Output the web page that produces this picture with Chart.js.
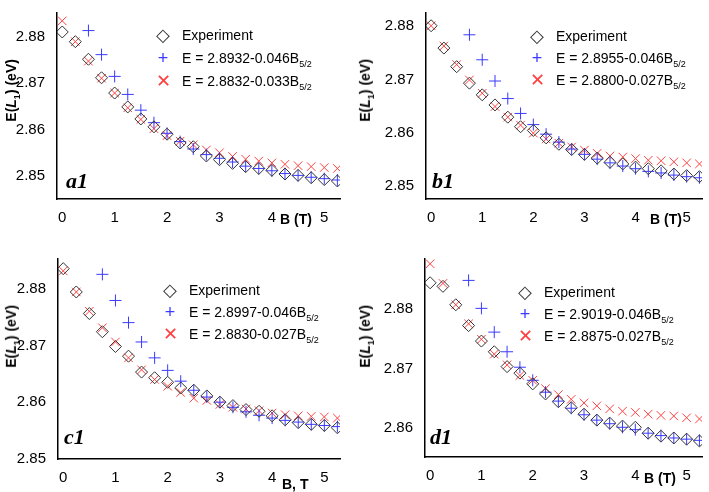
<!DOCTYPE html>
<html>
<head>
<meta charset="utf-8">
<script src="https://cdn.jsdelivr.net/npm/chart.js@4/dist/chart.umd.min.js"></script>
<style>
body { margin: 0; background: #fff; font-family: "Liberation Sans", Arial, sans-serif; }
#wrap { position: relative; width: 709px; height: 492px; overflow: hidden; }
.panel { position: absolute; }
.lbl { position: absolute; font-size: 14px; color: #000; white-space: nowrap; line-height: 1; }
.lbl sub { font-size: 9px; vertical-align: -4px; }
.sym { position: absolute; font-size: 18px; line-height: 1; transform: translate(-50%, -50%); }
.ytitle { position: absolute; font-weight: bold; font-size: 14px; transform: rotate(-90deg); transform-origin: center; white-space: nowrap; }
.ytitle sub { font-size: 9px; }
.xtitle { position: absolute; font-weight: bold; font-size: 14px; white-space: nowrap; }
.tag { position: absolute; font-family: "Liberation Serif", serif; font-weight: bold; font-style: italic; font-size: 22px; }
</style>
</head>
<body>
<div id="wrap"></div>
<script>
// magnetic field values (T)
var bField = [0, 0.25, 0.5, 0.75, 1, 1.25, 1.5, 1.75, 2, 2.25, 2.5, 2.75, 3, 3.25, 3.5, 3.75, 4, 4.25, 4.5, 4.75, 5, 5.25];
var xTicks = [0, 1, 2, 3, 4, 5];

// a1
var expA = [2.8811, 2.879, 2.8752, 2.8712, 2.8679, 2.8649, 2.8623, 2.8606, 2.859, 2.8571, 2.8563, 2.8543, 2.8535, 2.8527, 2.852, 2.8516, 2.8512, 2.8504, 2.8501, 2.8496, 2.8492, 2.8489];
var fit1A = [null, null, 2.8814, 2.8762, 2.8715, 2.8676, 2.8642, 2.8615, 2.8592, 2.8574, 2.8558, 2.8546, 2.8538, 2.853, 2.8521, 2.8516, 2.8511, 2.8505, 2.8501, 2.8497, 2.8494, 2.8491];
var fit2A = [2.8835, 2.879, 2.8748, 2.8711, 2.8679, 2.8647, 2.8622, 2.8602, 2.8587, 2.8575, 2.8567, 2.8556, 2.855, 2.8542, 2.8536, 2.8532, 2.8528, 2.8525, 2.8522, 2.852, 2.8518, 2.8516];
var yTicksA = [2.85, 2.86, 2.87, 2.88];

// b1
var expB = [2.8801, 2.8759, 2.8724, 2.8693, 2.8671, 2.8652, 2.8629, 2.8611, 2.8604, 2.859, 2.8578, 2.8568, 2.8559, 2.8552, 2.8544, 2.8541, 2.8535, 2.8532, 2.8528, 2.8522, 2.8519, 2.8517];
var fit1B = [null, null, null, 2.8784, 2.8737, 2.8697, 2.8664, 2.8636, 2.8615, 2.8597, 2.8582, 2.8569, 2.8559, 2.855, 2.8543, 2.8537, 2.8532, 2.8527, 2.8524, 2.852, 2.8517, 2.8515];
var fit2B = [2.8801, 2.8763, 2.8728, 2.8699, 2.8674, 2.8649, 2.8629, 2.8614, 2.8599, 2.8588, 2.858, 2.8573, 2.8567, 2.8561, 2.8556, 2.8554, 2.8551, 2.8548, 2.8547, 2.8545, 2.8543, 2.8541];
var yTicksB = [2.85, 2.86, 2.87, 2.88];

// c1
var expC = [2.8835, 2.8794, 2.8756, 2.8724, 2.8698, 2.8681, 2.8653, 2.8643, 2.8635, 2.8625, 2.8621, 2.8611, 2.86, 2.8594, 2.8587, 2.8584, 2.8576, 2.8569, 2.8564, 2.8561, 2.8559, 2.8555];
var fit1C = [null, null, null, 2.8825, 2.8779, 2.874, 2.8706, 2.8678, 2.8656, 2.8637, 2.8621, 2.8609, 2.86, 2.8591, 2.8583, 2.8577, 2.8572, 2.8568, 2.8565, 2.8561, 2.8559, 2.8557];
var fit2C = [2.8831, 2.8794, 2.876, 2.8731, 2.8706, 2.8678, 2.8657, 2.864, 2.8628, 2.8617, 2.8607, 2.8603, 2.8596, 2.8591, 2.8588, 2.8585, 2.8581, 2.8578, 2.8576, 2.8575, 2.8574, 2.8572];
var yTicksC = [2.85, 2.86, 2.87, 2.88];

// d1
var expD = [2.8844, 2.8838, 2.8807, 2.8772, 2.8746, 2.8728, 2.8703, 2.8692, 2.8674, 2.8657, 2.8644, 2.8634, 2.8623, 2.8613, 2.8608, 2.8603, 2.8601, 2.8591, 2.8586, 2.8583, 2.8581, 2.8578];
var fit1D = [null, null, null, 2.8848, 2.8801, 2.8761, 2.8728, 2.8702, 2.868, 2.866, 2.8645, 2.8633, 2.8622, 2.8613, 2.8607, 2.8601, 2.8597, 2.8591, 2.8587, 2.8583, 2.8581, 2.8579];
var fit2D = [2.8876, 2.8843, 2.8807, 2.8775, 2.8749, 2.8724, 2.8706, 2.8688, 2.868, 2.8666, 2.8656, 2.8648, 2.8642, 2.8637, 2.8632, 2.8628, 2.8626, 2.8623, 2.8621, 2.862, 2.8617, 2.8615];
var yTicksD = [2.86, 2.87, 2.88];

var legendA = ['Experiment', 'E = 2.8932-0.046B', 'E = 2.8832-0.033B'];
var legendB = ['Experiment', 'E = 2.8955-0.046B', 'E = 2.8800-0.027B'];
var legendC = ['Experiment', 'E = 2.8997-0.046B', 'E = 2.8830-0.027B'];
var legendD = ['Experiment', 'E = 2.9019-0.046B', 'E = 2.8875-0.027B'];

var panels = [
	{ left: 0, top: 0, w: 354, h: 246, yw: 57, xh: 47, padR: 14, padT: 0, ymin: 2.845, ymax: 2.8852,
		exp: expA, f1: fit1A, f2: fit2A, yt: yTicksA, leg: legendA, legX: 163, legY: 35, legGap: 23,
		tag: 'a1', tagX: 66, tagY: 168, xt: 'B (T)', xtX: 280, xtY: 211, ytY: 90 },
	{ left: 354, top: 0, w: 355, h: 246, yw: 72, xh: 47, padR: 0, padT: 0, ymin: 2.8475, ymax: 2.8825,
		exp: expB, f1: fit1B, f2: fit2B, yt: yTicksB, leg: legendB, legX: 537, legY: 36, legGap: 22,
		tag: 'b1', tagX: 432, tagY: 168, xt: 'B (T)', xtX: 650, xtY: 211, ytY: 90 },
	{ left: 0, top: 246, w: 354, h: 246, yw: 58, xh: 33, padR: 14, padT: 13, ymin: 2.85, ymax: 2.8852,
		exp: expC, f1: fit1C, f2: fit2C, yt: yTicksC, leg: legendC, legX: 170, legY: 290, legGap: 22,
		tag: 'c1', tagX: 64, tagY: 424, xt: 'B, T', xtX: 282, xtY: 476, ytY: 336 },
	{ left: 354, top: 246, w: 355, h: 246, yw: 71, xh: 35, padR: 0, padT: 10, ymin: 2.8551, ymax: 2.8884,
		exp: expD, f1: fit1D, f2: fit2D, yt: yTicksD, leg: legendD, legX: 525, legY: 292, legGap: 22,
		tag: 'd1', tagX: 430, tagY: 424, xt: 'B (T)', xtX: 644, xtY: 470, ytY: 336 },
];

var wrap = document.getElementById('wrap');

function addEl(cls, html, x, y, color) {
	var el = document.createElement('div');
	el.className = cls;
	el.innerHTML = html;
	el.style.left = x + 'px';
	el.style.top = y + 'px';
	if (color) el.style.color = color;
	wrap.appendChild(el);
	return el;
}

function pts(ys) {
	return bField.map(function (b, i) { return { x: b, y: ys[i] }; }).filter(function (p) { return p.y !== null; });
}

panels.forEach(function (p) {
	var box = document.createElement('div');
	box.className = 'panel';
	box.style.left = p.left + 'px';
	box.style.top = p.top + 'px';
	box.style.width = p.w + 'px';
	box.style.height = p.h + 'px';
	var canvas = document.createElement('canvas');
	box.appendChild(canvas);
	wrap.appendChild(box);

	new Chart(canvas.getContext('2d'), {
		type: 'scatter',
		data: {
			datasets: [{
				label: p.leg[0],
				data: pts(p.exp),
				pointStyle: 'rectRot',
				pointRadius: 6,
				borderColor: '#333',
				backgroundColor: 'rgba(0,0,0,0)',
				borderWidth: 1,
			}, {
				label: p.leg[1],
				data: pts(p.f1),
				pointStyle: 'cross',
				pointRadius: 6,
				borderColor: '#3a3aff',
				borderWidth: 1,
			}, {
				label: p.leg[2],
				data: pts(p.f2),
				pointStyle: 'crossRot',
				pointRadius: 6,
				borderColor: '#ff4040',
				borderWidth: 1,
			}],
		},
		options: {
			responsive: true,
			maintainAspectRatio: false,
			animation: false,
			layout: { padding: { top: p.padT, right: p.padR, left: 0, bottom: 0 } },
			plugins: { legend: { display: false }, tooltip: { enabled: false } },
			scales: {
				x: {
					type: 'linear', min: -0.1, max: 5.3,
					grid: { display: false },
					border: { color: '#000', width: 1.5 },
					afterBuildTicks: function (axis) { axis.ticks = xTicks.map(function (v) { return { value: v }; }); },
					afterFit: function (axis) { axis.height = p.xh; },
					ticks: { color: '#000', font: { family: 'Liberation Sans', size: 15 }, padding: 2 },
				},
				y: {
					min: p.ymin, max: p.ymax,
					grid: { display: false },
					border: { color: '#000', width: 1.5 },
					afterBuildTicks: function (axis) { axis.ticks = p.yt.map(function (v) { return { value: v }; }); },
					afterFit: function (axis) { axis.width = p.yw; },
					ticks: { color: '#000', font: { family: 'Liberation Sans', size: 15 }, padding: 4,
						callback: function (v) { return v.toFixed(2); } },
				},
			},
		},
	});

	// legend
	var syms = ['&#9671;', '+', '&#10005;'];
	var cols = ['#333', '#3a3aff', '#ff4040'];
	p.leg.forEach(function (t, i) {
		var y = p.legY + i * p.legGap;
		addEl('sym', syms[i], p.legX, y, cols[i]);
		addEl('lbl', t + (i > 0 ? '<sub>5/2</sub>' : ''), p.legX + 19, y - 7, '#000');
	});
	addEl('tag', p.tag, p.tagX, p.tagY);
	addEl('xtitle', p.xt, p.xtX, p.xtY);
	var yt = addEl('ytitle', 'E(<i>L</i><sub>1</sub>) (eV)', 0, 0);
	yt.style.left = (p.left + 12 - yt.offsetWidth / 2) + 'px';
	yt.style.top = (p.ytY - yt.offsetHeight / 2) + 'px';
});
</script>
</body>
</html>
